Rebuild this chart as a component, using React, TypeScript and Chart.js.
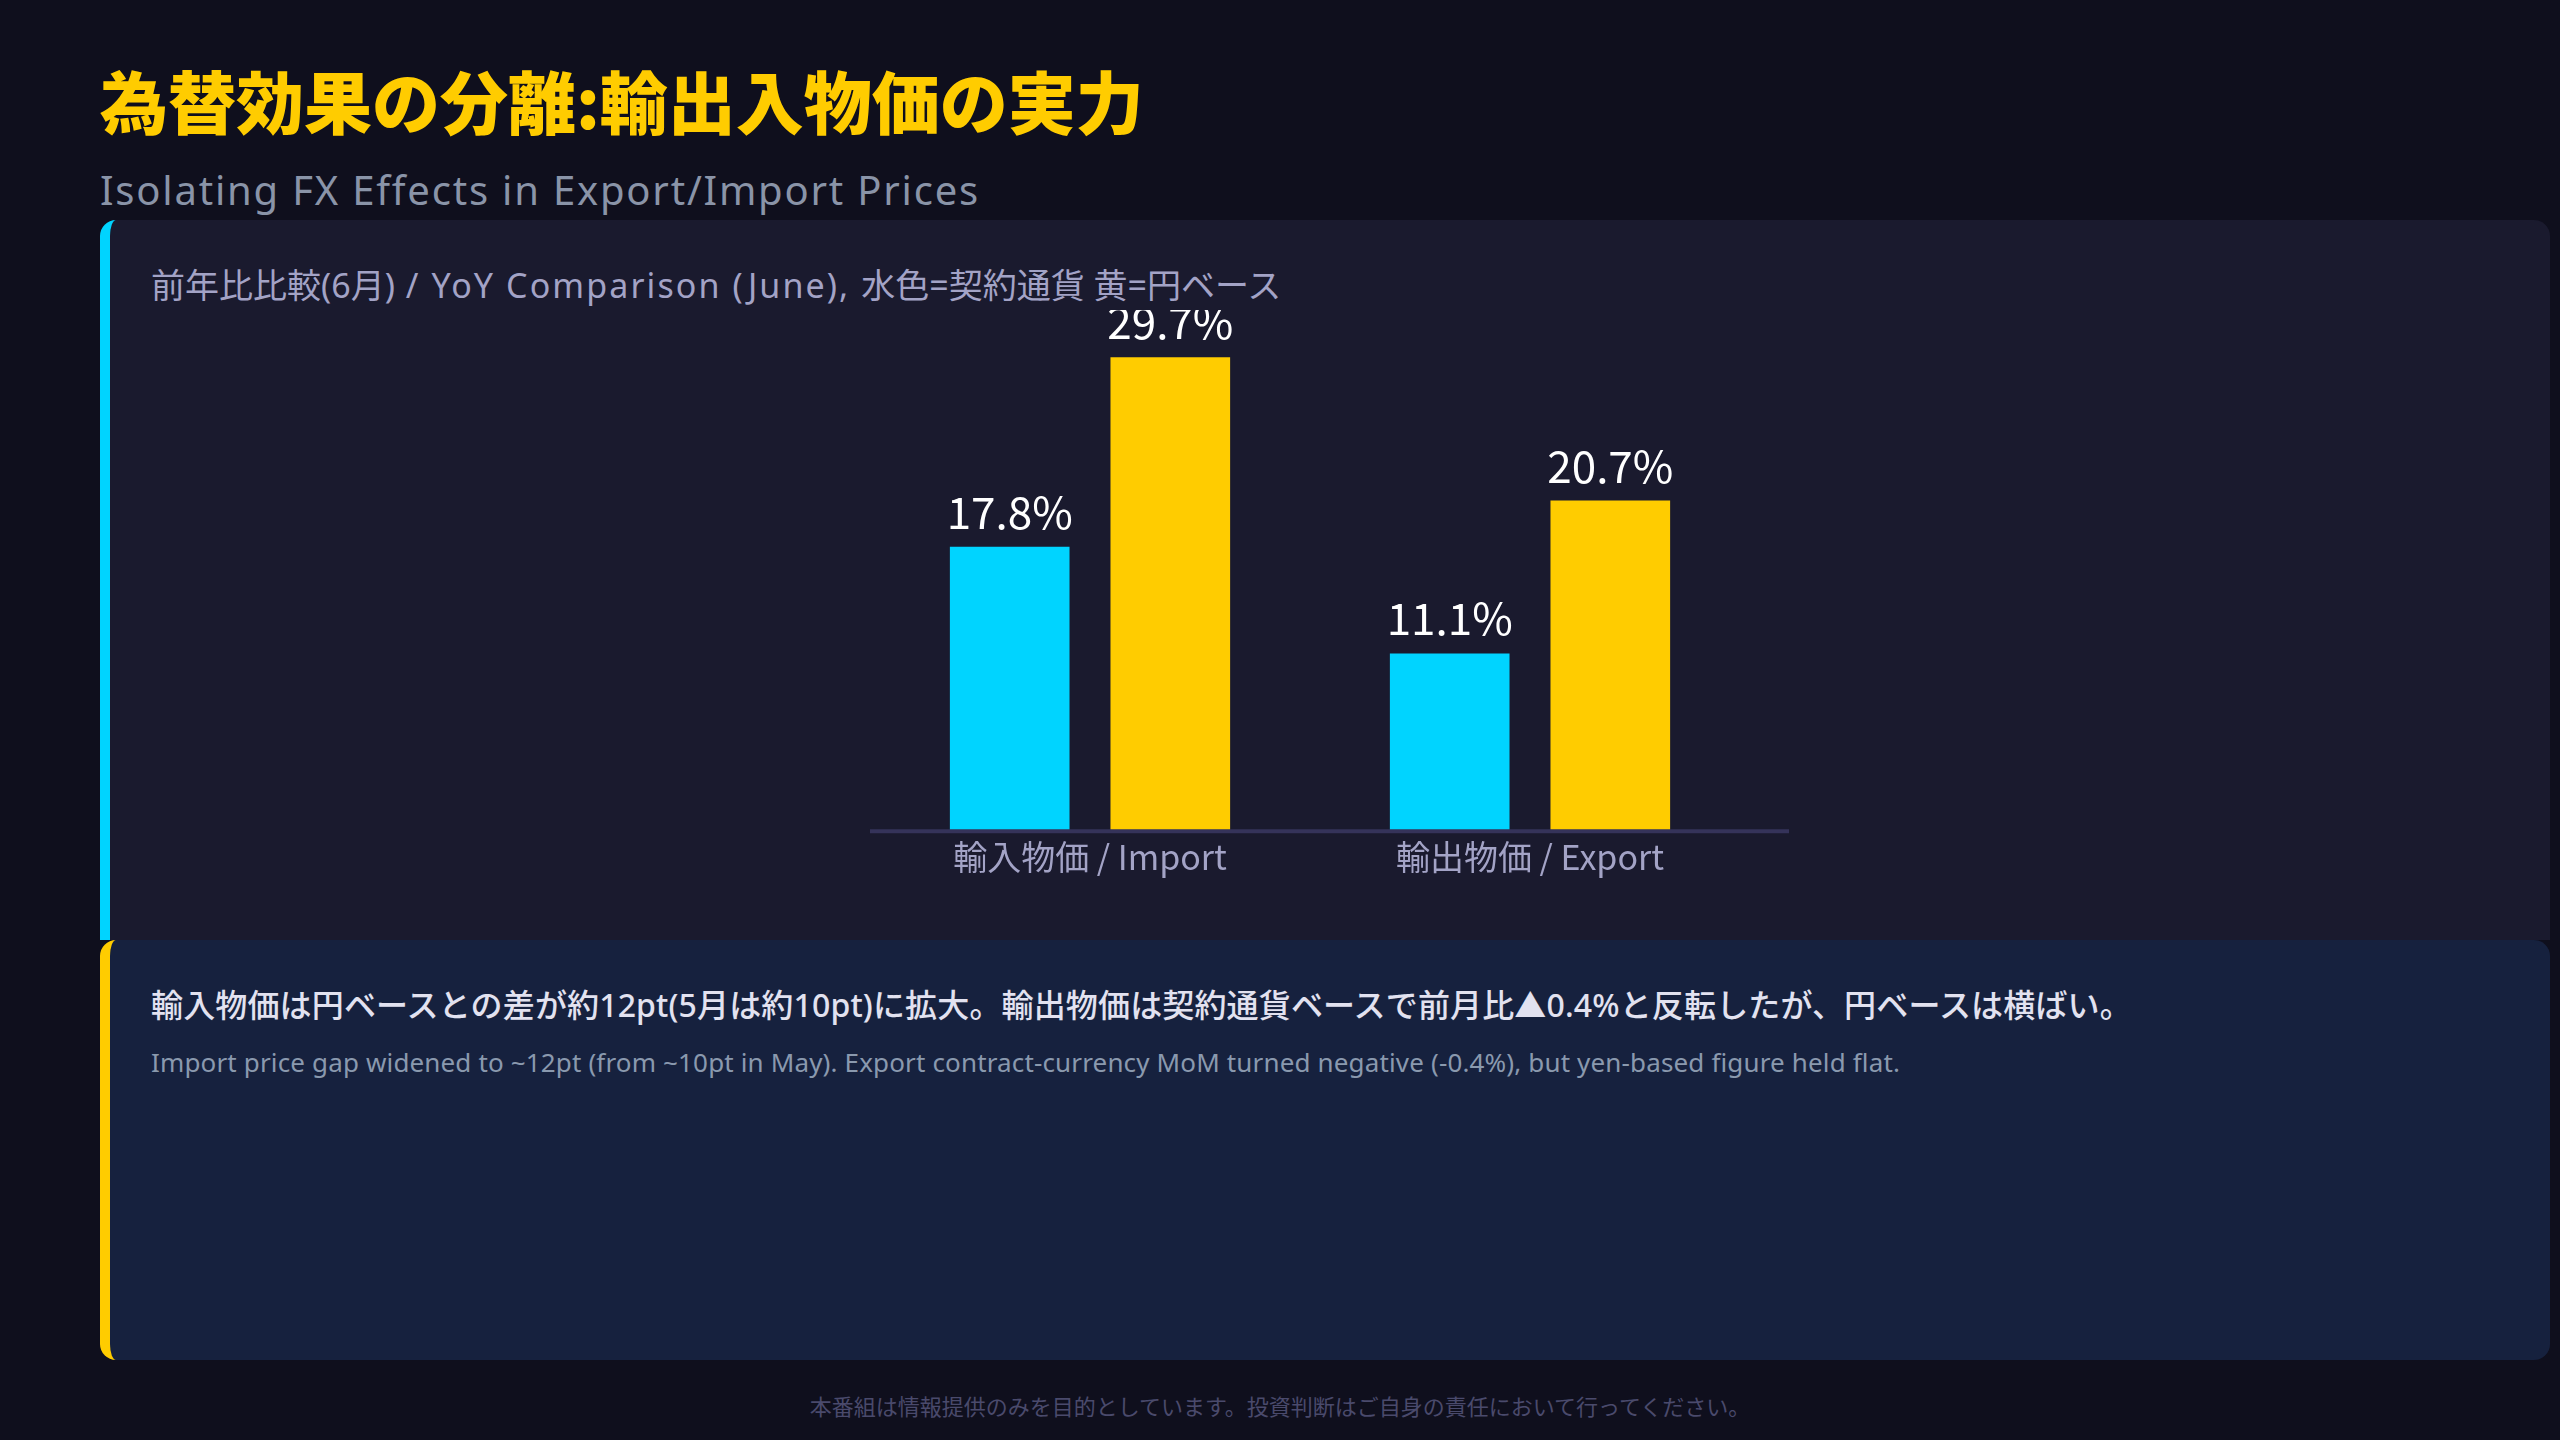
import React, { useEffect, useRef } from "react";
import { Chart, registerables } from "chart.js";

Chart.register(...registerables);

const categories = ["輸入物価 / Import", "輸出物価 / Export"];
const contractCurrencyYoY = [17.8, 11.1];
const yenBaseYoY = [29.7, 20.7];
const yAxisHeadroom = 1.1;

const FONT = "'Noto Sans CJK JP', 'Noto Sans', sans-serif";
const FONT_WIDE = "'Noto Sans', 'Noto Sans CJK JP', sans-serif";

const valueLabelPlugin = {
  id: "valueLabels",
  afterDatasetsDraw(chart: any) {
    const ctx = chart.ctx;
    ctx.save();
    ctx.font = `400 44px ${FONT}`;
    ctx.fillStyle = "#ffffff";
    ctx.textAlign = "center";
    ctx.textBaseline = "alphabetic";
    chart.data.datasets.forEach((ds: any, di: number) => {
      const meta = chart.getDatasetMeta(di);
      meta.data.forEach((bar: any, i: number) => {
        ctx.fillText(`${ds.data[i].toFixed(1)}%`, bar.x, bar.y - 18);
      });
    });
    ctx.restore();
  },
};

const baselinePlugin = {
  id: "baseline",
  afterDatasetsDraw(chart: any) {
    const ctx = chart.ctx;
    const y = chart.scales.y.getPixelForValue(0);
    ctx.save();
    ctx.strokeStyle = "#35335a";
    ctx.lineWidth = 4;
    ctx.beginPath();
    ctx.moveTo(chart.chartArea.left, y + 1);
    ctx.lineTo(chart.width, y + 1);
    ctx.stroke();
    ctx.restore();
  },
};

function BarChart() {
  const ref = useRef<HTMLCanvasElement | null>(null);
  useEffect(() => {
    if (!ref.current) return;
    const yMax = Math.max(...contractCurrencyYoY, ...yenBaseYoY) * yAxisHeadroom;
    const chart = new Chart(ref.current, {
      type: "bar",
      data: {
        labels: categories,
        datasets: [
          {
            label: "契約通貨",
            data: contractCurrencyYoY,
            backgroundColor: "#00d4ff",
            categoryPercentage: 0.73,
            barPercentage: 0.745,
          },
          {
            label: "円ベース",
            data: yenBaseYoY,
            backgroundColor: "#ffcc00",
            categoryPercentage: 0.73,
            barPercentage: 0.745,
          },
        ],
      },
      options: {
        animation: false,
        responsive: true,
        maintainAspectRatio: false,
        layout: { padding: { left: 0, right: 39, top: 0, bottom: 0 } },
        plugins: {
          legend: { display: false },
          title: { display: false },
          tooltip: { enabled: false },
        },
        scales: {
          x: {
            grid: { display: false, drawTicks: false },
            border: { display: false },
            ticks: {
              color: "#a3a3c6",
              padding: 6,
              font: { family: FONT, size: 34 },
            },
          },
          y: {
            display: false,
            min: 0,
            max: yMax,
          },
        },
      },
      plugins: [valueLabelPlugin, baselinePlugin],
    });
    return () => chart.destroy();
  }, []);
  return (
    <div style={{ position: "absolute", left: 870, top: 310, width: 919, height: 573 }}>
      <canvas ref={ref} />
    </div>
  );
}

export default function App() {
  return (
    <div
      style={{
        position: "fixed",
        left: 0,
        top: 0,
        width: 2560,
        height: 1440,
        background: "#0f0f1d",
        fontFamily: FONT,
        overflow: "hidden",
      }}
    >
      <div
        style={{
          position: "absolute",
          left: 100,
          top: 66,
          fontSize: 68,
          lineHeight: "68px",
          fontWeight: 900,
          color: "#ffcc00",
          whiteSpace: "nowrap",
        }}
      >
        為替効果の分離:輸出入物価の実力
      </div>
      <div
        style={{
          position: "absolute",
          left: 100,
          top: 170,
          fontSize: 40,
          lineHeight: "40px",
          fontFamily: FONT_WIDE,
          letterSpacing: "1.8px",
          color: "#8a94a8",
          whiteSpace: "nowrap",
        }}
      >
        Isolating FX Effects in Export/Import Prices
      </div>

      <div
        style={{
          position: "absolute",
          left: 100,
          top: 220,
          width: 2450,
          height: 720,
          boxSizing: "border-box",
          background: "#1a1a2e",
          borderLeft: "10px solid #00d4ff",
          borderRadius: "16px 16px 0 0",
        }}
      />
      <div
        style={{
          position: "absolute",
          left: 151,
          top: 268,
          fontSize: 34,
          lineHeight: "34px",
          fontFamily: FONT_WIDE,
          color: "#a3a3c6",
          whiteSpace: "nowrap",
        }}
      >
        前年比比較(6月)<span style={{ letterSpacing: "2.1px" }}> / YoY Comparison (June), </span>水色=契約通貨 黄=円ベース
      </div>
      <BarChart />

      <div
        style={{
          position: "absolute",
          left: 100,
          top: 940,
          width: 2450,
          height: 420,
          boxSizing: "border-box",
          background: "#16213e",
          borderLeft: "10px solid #ffcc00",
          borderRadius: 16,
        }}
      />
      <div
        style={{
          position: "absolute",
          left: 151,
          top: 989,
          fontSize: 32,
          lineHeight: "32px",
          fontWeight: 500,
          fontFamily: FONT_WIDE,
          letterSpacing: "0.15px",
          color: "#e2e2f0",
          whiteSpace: "nowrap",
        }}
      >
        輸入物価は円ベースとの差が約12pt(5月は約10pt)に拡大。輸出物価は契約通貨ベースで前月比▲0.4%と反転したが、円ベースは横ばい。
      </div>
      <div
        style={{
          position: "absolute",
          left: 151,
          top: 1049,
          fontSize: 26,
          lineHeight: "26px",
          fontFamily: FONT_WIDE,
          letterSpacing: "0.15px",
          color: "#8a99ae",
          whiteSpace: "nowrap",
        }}
      >
        Import price gap widened to ~12pt (from ~10pt in May). Export contract-currency MoM turned negative (-0.4%), but yen-based figure held flat.
      </div>

      <div
        style={{
          position: "absolute",
          left: 0,
          width: 2560,
          top: 1394,
          fontSize: 22,
          lineHeight: "22px",
          color: "#4a4a6c",
          textAlign: "center",
          whiteSpace: "nowrap",
        }}
      >
        本番組は情報提供のみを目的としています。投資判断はご自身の責任において行ってください。
      </div>
    </div>
  );
}
